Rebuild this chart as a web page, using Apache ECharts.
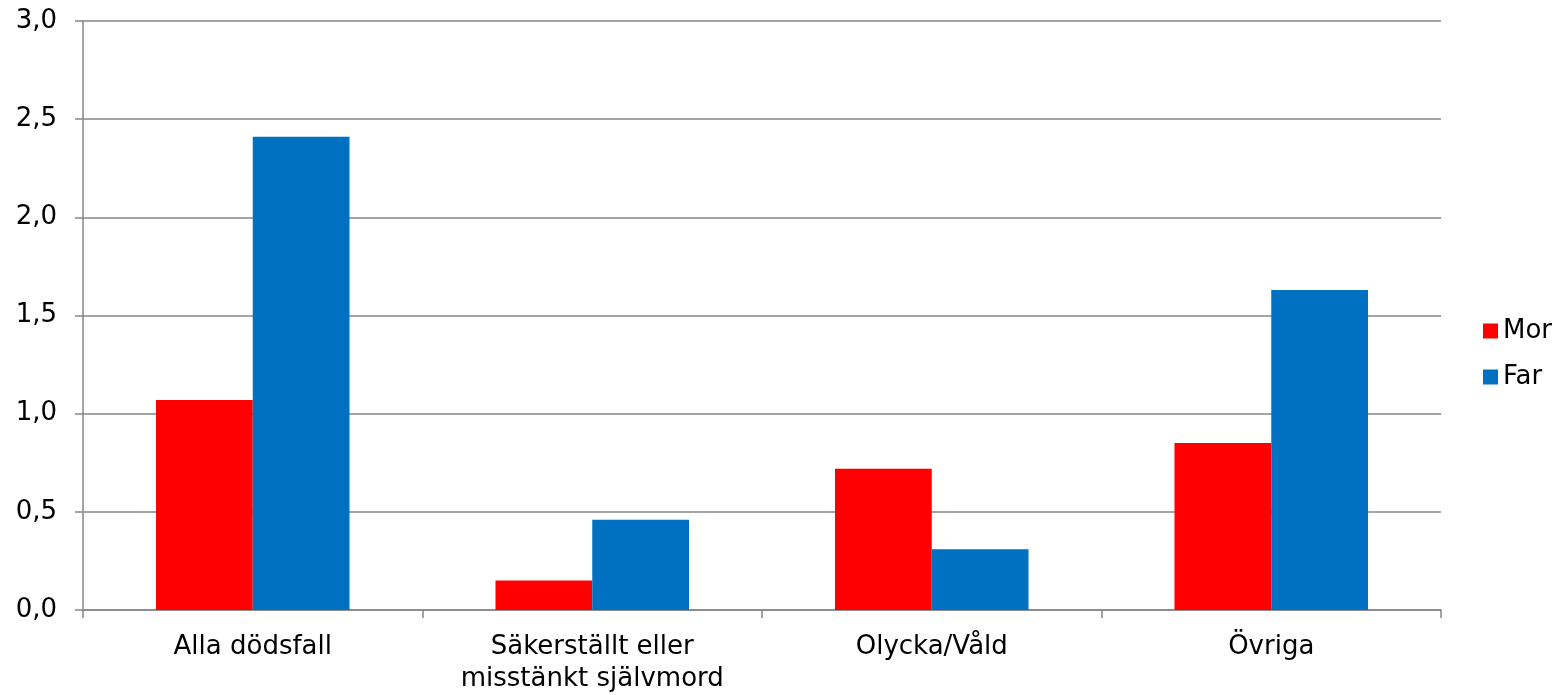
<!DOCTYPE html>
<html>
<head>
<meta charset="utf-8">
<script src="https://cdn.jsdelivr.net/npm/echarts@6/dist/echarts.min.js"></script>
<style>
html,body{margin:0;padding:0;background:#fff;}
#chart{width:1567px;height:695px;}
</style>
</head>
<body>
<div id="chart"></div>
<script>
const categories = ["Alla dödsfall", "Säkerställt eller\nmisstänkt självmord", "Olycka/Våld", "Övriga"];
const morValues = [1.07, 0.15, 0.72, 0.85];
const farValues = [2.41, 0.46, 0.31, 1.63];
const seriesNames = ["Mor", "Far"];

const font = "'DejaVu Sans', Verdana, sans-serif";
const fs = 26;
const axisColor = "#868686";
const chart = echarts.init(document.getElementById("chart"));
chart.setOption({
  animation: false,
  textStyle: {fontFamily: font},
  grid: {left: 83, right: 126, top: 21, bottom: 84, containLabel: false},
  legend: {
    orient: "vertical",
    left: 1478,
    top: 313,
    itemWidth: 15,
    itemHeight: 15,
    itemGap: 20,
    icon: "rect",
    textStyle: {fontFamily: font, fontSize: fs, color: "#000"},
    data: seriesNames
  },
  xAxis: {
    type: "category",
    data: categories,
    axisLine: {show: true, lineStyle: {color: axisColor, width: 1.5}},
    axisTick: {show: true, interval: 0, length: 8, lineStyle: {color: axisColor, width: 1.5}},
    axisLabel: {interval: 0, hideOverlap: false, fontFamily: font, fontSize: fs, color: "#000", margin: 21, lineHeight: 32}
  },
  yAxis: {
    type: "value",
    min: 0,
    max: 3,
    interval: 0.5,
    axisLine: {show: true, lineStyle: {color: axisColor, width: 1.5}},
    axisTick: {show: true, length: 8, lineStyle: {color: axisColor, width: 1.5}},
    splitLine: {show: true, lineStyle: {color: axisColor, width: 1.5}},
    axisLabel: {
      fontFamily: font, fontSize: fs, color: "#000", margin: 26,
      formatter: v => v.toFixed(1).replace(".", ",")
    }
  },
  series: [
    {name: seriesNames[0], type: "bar", data: morValues, barGap: "0%", barCategoryGap: "43%", itemStyle: {color: "#FF0000"}},
    {name: seriesNames[1], type: "bar", data: farValues, barGap: "0%", barCategoryGap: "43%", itemStyle: {color: "#0070C0"}}
  ]
});
</script>
</body>
</html>
